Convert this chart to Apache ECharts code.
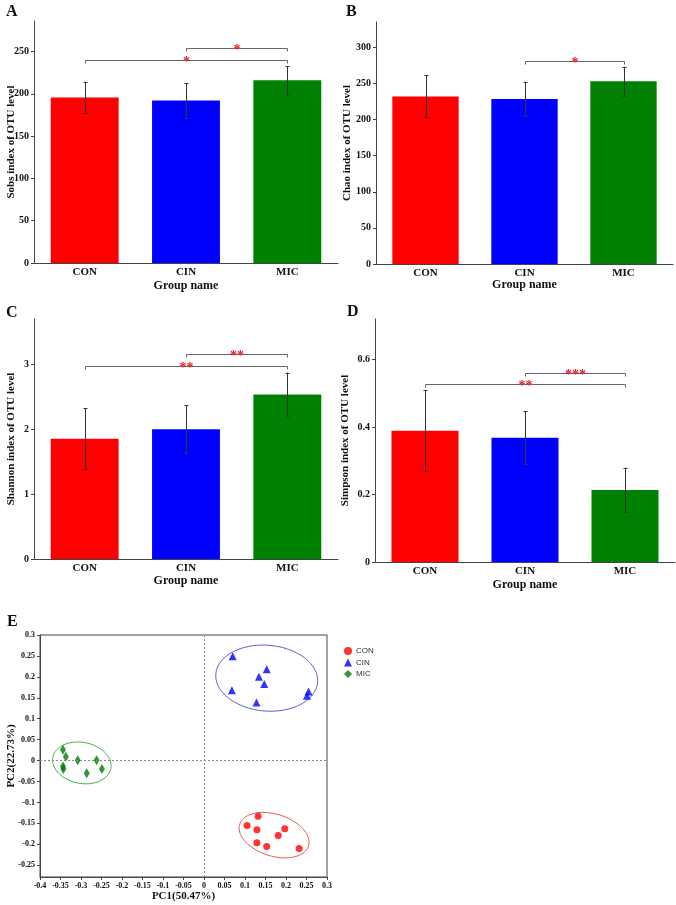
<!DOCTYPE html>
<html><head><meta charset="utf-8">
<script src="https://cdn.jsdelivr.net/npm/echarts@6/dist/echarts.min.js"></script>
<style>html,body{margin:0;padding:0;background:#fff}#c{width:676px;height:905px}</style>
</head><body><div id="c"></div>
<script>
// ---------- data ----------
const categories = ['CON', 'CIN', 'MIC'];
const sobsMean = [195.5, 192, 216];
const sobsErr = [18, 20.5, 16.5];
const chaoMean = [232, 228.5, 253];
const chaoErr = [29, 23, 20];
const shannonMean = [1.855, 2.0, 2.535];
const shannonErr = [0.475, 0.37, 0.34];
const simpsonMean = [0.389, 0.368, 0.213];
const simpsonErr = [0.12, 0.078, 0.066];

// significance brackets: [fromIndex, toIndex, yValue]
const sobsSig = [[0, 2, 240], [1, 2, 254]];
const sobsSigLabel = ['*', '*'];
const chaoSig = [[1, 2, 281]];
const chaoSigLabel = ['*'];
const shannonSig = [[0, 2, 2.975], [1, 2, 3.16]];
const shannonSigLabel = ['**', '**'];
const simpsonSig = [[0, 2, 0.528], [1, 2, 0.56]];
const simpsonSigLabel = ['**', '***'];

// PCoA scores
const conX = [0.132, 0.105, 0.129, 0.197, 0.181, 0.129, 0.153, 0.232];
const conY = [-0.133, -0.155, -0.165, -0.163, -0.179, -0.196, -0.205, -0.21];
const cinX = [0.07, 0.068, 0.153, 0.134, 0.147, 0.128, 0.255, 0.251];
const cinY = [0.249, 0.168, 0.218, 0.2, 0.183, 0.139, 0.165, 0.155];
const micX = [-0.344, -0.337, -0.308, -0.262, -0.344, -0.343, -0.286, -0.249];
const micY = [0.026, 0.009, 0.001, 0.001, -0.014, -0.02, -0.03, -0.02];
// confidence ellipses: [centerX, centerY, semiMajor (x units), semiMinor (y units), angleDeg]
const conEllipse = [0.171, -0.178, 0.088, 0.05, 17.6];
const cinEllipse = [0.153, 0.197, 0.1245, 0.0786, 4.7];
const micEllipse = [-0.298, -0.0055, 0.072, 0.049, 11];

const xTicksE = [-0.4, -0.35, -0.3, -0.25, -0.2, -0.15, -0.1, -0.05, 0, 0.05, 0.1, 0.15, 0.2, 0.25, 0.3];
const yTicksE = [-0.25, -0.2, -0.15, -0.1, -0.05, 0, 0.05, 0.1, 0.15, 0.2, 0.25, 0.3];

// ---------- styles ----------
const SERIF = "'Liberation Serif', 'Times New Roman', serif";
const barColors = ['#ff0000', '#0000ff', '#008000'];
const axisCol = '#444';

function errRender(params, api) {
  const x = api.value(0);
  const lo = api.coord([x, api.value(1)]);
  const hi = api.coord([x, api.value(2)]);
  const px = Math.round(lo[0]) + 0.5;
  const cw = 2;
  const st = { stroke: '#333', lineWidth: 1 };
  return { type: 'group', children: [
    { type: 'line', shape: { x1: px, y1: lo[1], x2: px, y2: hi[1] }, style: st },
    { type: 'line', shape: { x1: px - cw, y1: Math.round(hi[1]) + 0.5, x2: px + cw, y2: Math.round(hi[1]) + 0.5 }, style: st },
    { type: 'line', shape: { x1: px - cw, y1: Math.round(lo[1]) + 0.5, x2: px + cw, y2: Math.round(lo[1]) + 0.5 }, style: st }
  ]};
}
function makeSigRender(labels) {
  return function (params, api) {
    const p1 = api.coord([api.value(0), api.value(2)]);
    const p2 = api.coord([api.value(1), api.value(2)]);
    const y = Math.round(p1[1]) + 0.5;
    const x1 = Math.round(p1[0]) + 0.5, x2 = Math.round(p2[0]) + 0.5;
    return { type: 'group', children: [
      { type: 'polyline', shape: { points: [[x1, y + 3], [x1, y], [x2, y], [x2, y + 3]] },
        style: { stroke: '#666', lineWidth: 1, fill: null } },
      { type: 'text', x: (x1 + x2) / 2, y: y + 1.5,
        style: { text: labels[params.dataIndex], fill: '#e8202a', font: 'bold 14px ' + SERIF,
                 align: 'center', verticalAlign: 'middle' } }
    ]};
  };
}
function ellipseRender(e, color) {
  return function (params, api) {
    const c = api.coord([e[0], e[1]]);
    const s = api.size([1, 1]);
    const a = e[2] * s[0], b = e[3] * s[1];
    const th = e[4] * Math.PI / 180;
    const pts = [];
    for (let i = 0; i <= 120; i++) {
      const t = i / 120 * 2 * Math.PI;
      const dx = a * Math.cos(t), dy = b * Math.sin(t);
      pts.push([c[0] + dx * Math.cos(th) - dy * Math.sin(th), c[1] + dx * Math.sin(th) + dy * Math.cos(th)]);
    }
    return { type: 'polygon', shape: { points: pts }, style: { stroke: color, lineWidth: 1, fill: null } };
  };
}

const gridDefs = [
  { left: 34, top: 21, width: 304, height: 242 },
  { left: 376, top: 22, width: 297, height: 242 },
  { left: 34, top: 319, width: 304, height: 240 },
  { left: 375, top: 319, width: 300, height: 243 },
  { left: 40, top: 635, width: 287, height: 242, show: true, borderColor: axisCol, borderWidth: 1, backgroundColor: 'transparent' }
];
const yNames = ['Sobs index of OTU level', 'Chao index of OTU level', 'Shannon index of OTU level', 'Simpson index of OTU level'];
const yMax = [286, 335, 3.7, 0.72];
const yInt = [50, 50, 1, 0.2];
const yGap = [17, 23, 17, 24];
const xGap = [17, 15, 16, 17];

const xAxes = [], yAxes = [], series = [];
const means = [sobsMean, chaoMean, shannonMean, simpsonMean];
const errs = [sobsErr, chaoErr, shannonErr, simpsonErr];
const sigs = [sobsSig, chaoSig, shannonSig, simpsonSig];
const sigLabels = [sobsSigLabel, chaoSigLabel, shannonSigLabel, simpsonSigLabel];

for (let g = 0; g < 4; g++) {
  xAxes.push({
    gridIndex: g, type: 'category', data: categories, boundaryGap: true,
    name: 'Group name', nameLocation: 'middle', nameGap: xGap[g], nameMoveOverlap: false,
    nameTextStyle: { fontFamily: SERIF, fontWeight: 'bold', fontSize: 12, color: '#111' },
    axisLine: { lineStyle: { color: axisCol, width: 1 } },
    axisTick: { show: false },
    axisLabel: { fontFamily: SERIF, fontWeight: 'bold', fontSize: 11, color: '#111', margin: 4 }
  });
  yAxes.push({
    gridIndex: g, type: 'value', min: 0, max: yMax[g], interval: yInt[g],
    name: yNames[g], nameLocation: 'middle', nameGap: yGap[g], nameRotate: 90, nameMoveOverlap: false,
    nameTextStyle: { fontFamily: SERIF, fontWeight: 'bold', fontSize: 11, color: '#111' },
    axisLine: { show: true, lineStyle: { color: axisCol, width: 1 } },
    axisTick: { show: true, length: 3, lineStyle: { color: axisCol } },
    splitLine: { show: false },
    axisLabel: { fontFamily: SERIF, fontWeight: 'bold', fontSize: 10, color: '#111', margin: 5, showMaxLabel: false,
      formatter: v => String(+v.toFixed(2)) }
  });
  series.push({
    type: 'bar', xAxisIndex: g, yAxisIndex: g, data: means[g], barCategoryGap: '33%',
    itemStyle: { color: p => barColors[p.dataIndex] }, silent: true, animation: false
  });
  series.push({
    type: 'custom', xAxisIndex: g, yAxisIndex: g, z: 5, silent: true, animation: false,
    data: means[g].map((m, i) => [i, m - errs[g][i], m + errs[g][i]]),
    encode: { x: 0, y: [1, 2] }, renderItem: errRender
  });
  series.push({
    type: 'custom', xAxisIndex: g, yAxisIndex: g, z: 5, silent: true, animation: false,
    data: sigs[g], encode: { x: [0, 1], y: 2 }, renderItem: makeSigRender(sigLabels[g])
  });
}

// PCoA panel
xAxes.push({
  gridIndex: 4, type: 'value', min: -0.4, max: 0.3, interval: 0.05,
  name: 'PC1(50.47%)', nameLocation: 'middle', nameGap: 14, nameMoveOverlap: false,
  nameTextStyle: { fontFamily: SERIF, fontWeight: 'bold', fontSize: 11, color: '#111' },
  axisLine: { onZero: false, lineStyle: { color: axisCol } },
  axisTick: { length: 3, lineStyle: { color: axisCol }, customValues: xTicksE },
  splitLine: { show: false },
  axisLabel: { fontFamily: SERIF, fontWeight: 'bold', fontSize: 8, color: '#111', margin: 5, customValues: xTicksE,
    formatter: v => String(+(+v).toFixed(2)) }
});
yAxes.push({
  gridIndex: 4, type: 'value', min: -0.278, max: 0.3,
  name: 'PC2(22.73%)', nameLocation: 'middle', nameGap: 23, nameRotate: 90, nameMoveOverlap: false,
  nameTextStyle: { fontFamily: SERIF, fontWeight: 'bold', fontSize: 11, color: '#111' },
  axisLine: { onZero: false, lineStyle: { color: axisCol } },
  axisTick: { length: 3, lineStyle: { color: axisCol }, customValues: yTicksE },
  splitLine: { show: false },
  axisLabel: { fontFamily: SERIF, fontWeight: 'bold', fontSize: 8, color: '#111', margin: 5, customValues: yTicksE,
    formatter: v => String(+(+v).toFixed(2)) }
});
const zip = (xs, ys) => xs.map((x, i) => [x, ys[i]]);
series.push({
  type: 'scatter', name: 'CON', xAxisIndex: 4, yAxisIndex: 4, symbol: 'circle', symbolSize: 7,
  itemStyle: { color: '#ff0000' }, data: zip(conX, conY), z: 4, animation: false,
  markLine: { silent: true, symbol: 'none', label: { show: false },
    lineStyle: { type: [2, 2], color: '#888', width: 1 },
    data: [{ xAxis: 0 }, { yAxis: 0 }] }
});
series.push({
  type: 'scatter', name: 'CIN', xAxisIndex: 4, yAxisIndex: 4, symbol: 'triangle', symbolSize: 8,
  itemStyle: { color: '#0000ff' }, data: zip(cinX, cinY), z: 4, animation: false
});
series.push({
  type: 'scatter', name: 'MIC', xAxisIndex: 4, yAxisIndex: 4, symbol: 'diamond', symbolSize: [6, 10],
  itemStyle: { color: '#007a00' }, data: zip(micX, micY), z: 4, animation: false
});
[[conEllipse, '#e05555'], [cinEllipse, '#5a5ae0'], [micEllipse, '#45a845']].forEach(([e, col], i) => {
  series.push({
    type: 'custom', name: 'ell' + i, xAxisIndex: 4, yAxisIndex: 4, silent: true, animation: false, z: 3,
    data: [[e[0], e[1]]], encode: { x: 0, y: 1 }, renderItem: ellipseRender(e, col)
  });
});

const letter = (t, x, y) => ({ type: 'text', left: x, top: y,
  style: { text: t, font: 'bold 16px ' + SERIF, fill: '#111' } });

const chart = echarts.init(document.getElementById('c'), null, { renderer: 'canvas' });
chart.setOption({
  animation: false,
  backgroundColor: '#fff',
  grid: gridDefs,
  xAxis: xAxes,
  yAxis: yAxes,
  series: series,
  legend: {
    data: [{ name: 'CON', icon: 'circle' }, { name: 'CIN', icon: 'triangle' }, { name: 'MIC', icon: 'diamond' }],
    orient: 'vertical', left: 339, top: 642, itemWidth: 8, itemHeight: 8, itemGap: 3.5,
    textStyle: { fontFamily: "'Liberation Sans', Arial, sans-serif", fontSize: 8, color: '#333', padding: [0, 0, 0, -1] },
    selectedMode: false
  },
  graphic: [letter('A', 6, 4), letter('B', 346, 4), letter('C', 6, 305), letter('D', 347, 304), letter('E', 7, 614)]
});
</script></body></html>
